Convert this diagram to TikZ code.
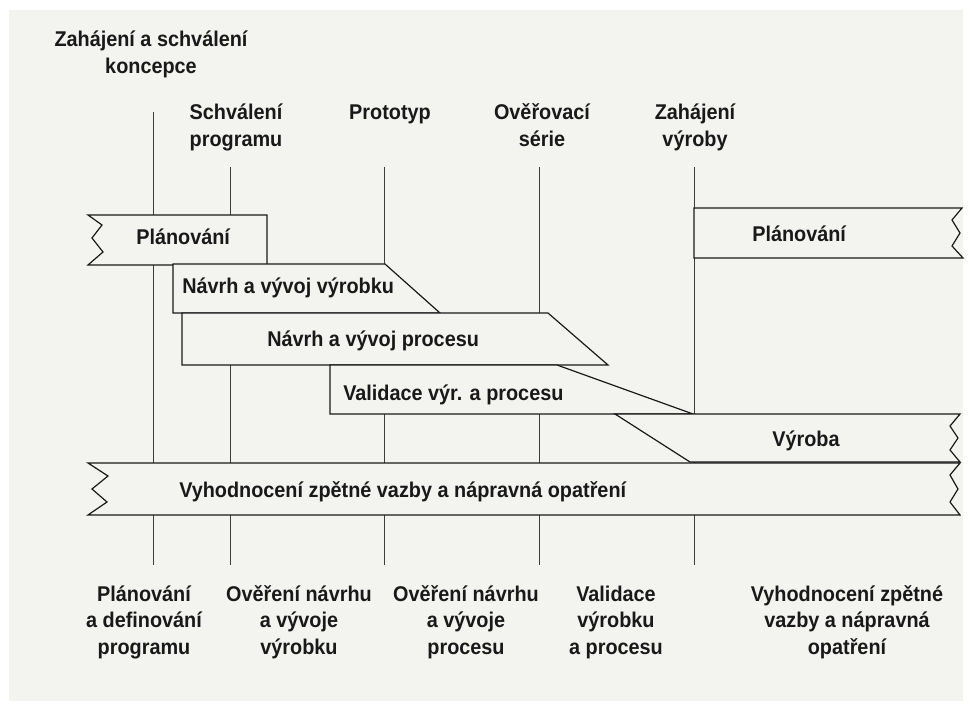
\documentclass[tikz,border=0pt]{standalone}
\usepackage{fontspec}
\setmainfont{Liberation Sans}[FakeStretch=0.93]
\definecolor{paper}{RGB}{243,243,240}
\definecolor{ink}{RGB}{25,25,25}
\newcommand{\mlines}[1]{\vtop{\baselineskip=20pt\halign{\hfil##\hfil\cr#1\crcr}}}
\begin{document}
\begin{tikzpicture}[x=0.75pt,y=-0.75pt,
  bar/.style={draw=ink,line width=0.9pt,fill=paper,line join=miter},
  mile/.style={draw=ink!85,line width=0.7pt},
  lbl/.style={font=\fontsize{16}{20}\selectfont\bfseries,text=ink,inner sep=0pt}]
\fill[white] (0,0) rectangle (971,709);
\fill[paper] (9,10) rectangle (963,701);
\useasboundingbox (0,0) rectangle (971,709);

% milestone lines
\foreach \n/\x/\t in {1/153/112,2/230/167,3/384/167,4/539/167,5/694/167}{
  \coordinate (m\n t) at (\x,\t);
  \coordinate (m\n b) at (\x,565);
  \draw[mile] (m\n t) -- (m\n b);
}

% bars
\draw[bar] (88,215) -- (267,215) -- (267,265) -- (88,265) -- (103,252) -- (92,238) -- (102,225) -- cycle;
\draw[bar] (173,264) -- (385,264) -- (440,313) -- (173,313) -- cycle;
\draw[bar] (182,313) -- (548,313) -- (608,365) -- (182,365) -- cycle;
\draw[bar] (330,365) -- (557,365) -- (693,414) -- (330,414) -- cycle;
\draw[bar] (615,414) -- (960,414) -- (950,426) -- (958,438) -- (950,450) -- (960,462) -- (690,462) -- cycle;
\draw[bar] (88,463) -- (960,463) -- (950,475) -- (958,489) -- (950,502) -- (960,515) -- (88,515) -- (107,502) -- (92,489) -- (108,476) -- cycle;
\draw[bar] (694,208) -- (962,208) -- (952,220) -- (960,233) -- (952,246) -- (963,258) -- (694,258) -- cycle;

% bar labels
\node[lbl,anchor=base west] (tplan1) at (136,245) {Plánování};
\node[lbl,anchor=base west] (tnvyr) at (182,294) {Návrh a vývoj výrobku};
\node[lbl,anchor=base west] (tnproc) at (267,346) {Návrh a vývoj procesu};
\node[lbl,anchor=base west] (tval) at (343,400) {Validace výr. a procesu};
\node[lbl,anchor=base west] (tvyr) at (772,446) {Výroba};
\node[lbl,anchor=base west] (tvyh) at (179,497) {Vyhodnocení zpětné vazby a nápravná opatření};
\node[lbl,anchor=base west] (tplan2) at (752,242) {Plánování};

% top milestone labels
\node[lbl,anchor=base] (h1) at (151,47) {\mlines{Zahájení a schválení\cr koncepce}};
\node[lbl,anchor=base] (h2) at (236,120) {\mlines{Schválení\cr programu}};
\node[lbl,anchor=base] (h3) at (390,120) {Prototyp};
\node[lbl,anchor=base] (h4) at (542,120) {\mlines{Ověřovací\cr série}};
\node[lbl,anchor=base] (h5) at (695,120) {\mlines{Zahájení\cr výroby}};

% bottom phase labels
\node[lbl,anchor=base] (b1) at (144,601) {\mlines{Plánování\cr a definování\cr programu}};
\node[lbl,anchor=base] (b2) at (299,601) {\mlines{Ověření návrhu\cr a vývoje\cr výrobku}};
\node[lbl,anchor=base] (b3) at (466,601) {\mlines{Ověření návrhu\cr a vývoje\cr procesu}};
\node[lbl,anchor=base] (b4) at (616,601) {\mlines{Validace\cr výrobku\cr a procesu}};
\node[lbl,anchor=base] (b5) at (847,601) {\mlines{Vyhodnocení zpětné\cr vazby a nápravná\cr opatření}};
\end{tikzpicture}
\end{document}
